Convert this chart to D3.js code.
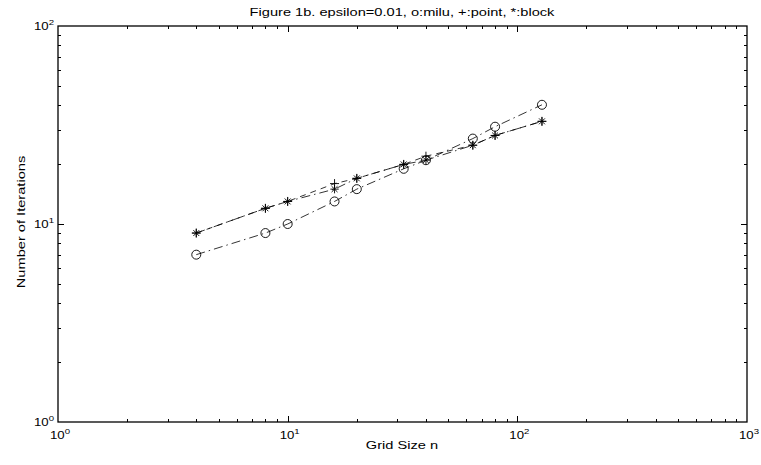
<!DOCTYPE html>
<html><head><meta charset="utf-8">
<script src="https://cdn.jsdelivr.net/npm/d3@7/dist/d3.min.js"></script>
<style>body{margin:0;background:#fff}text{font-family:"Liberation Sans",Arial,sans-serif;fill:#000}</style>
</head><body>
<script>
const gridSizes = [4, 8, 10, 16, 20, 32, 40, 64, 80, 128];
const miluIters = [7, 9, 10, 13, 15, 19, 21, 27, 31, 40];
const pointIters = [9, 12, 13, 16, 17, 20, 22, 25, 28, 33];
const blockIters = [9, 12, 13, 15, 17, 20, 21, 25, 28, 33];
const xDecades = [0, 1, 2, 3];
const yDecades = [0, 1, 2];
const titleText = "Figure 1b. epsilon=0.01, o:milu, +:point, *:block";

const W = 761, H = 465;
const L = 58, R = 747, T = 26, B = 422;
const SX = 1.33;
const svg = d3.select("body").append("svg").attr("width", W).attr("height", H);
const x = d3.scaleLog().domain([1, 1000]).range([L, R]);
const y = d3.scaleLog().domain([1, 100]).range([B, T]);

// ticks
const minorX = [], minorY = [];
for (let d = 0; d < 3; d++) for (let k = 2; k <= 9; k++) minorX.push(k * Math.pow(10, d));
for (let d = 0; d < 2; d++) for (let k = 2; k <= 9; k++) minorY.push(k * Math.pow(10, d));
const tk = svg.append("g").attr("stroke", "#000").attr("stroke-width", 1);
minorX.forEach(v => {
  const px = Math.round(x(v)) + 0.5;
  tk.append("line").attr("x1", px).attr("x2", px).attr("y1", B).attr("y2", B - 3);
  tk.append("line").attr("x1", px).attr("x2", px).attr("y1", T).attr("y2", T + 3);
});
xDecades.slice(1, -1).forEach(e => {
  const px = Math.round(x(Math.pow(10, e))) + 0.5;
  tk.append("line").attr("x1", px).attr("x2", px).attr("y1", B).attr("y2", B - 6);
  tk.append("line").attr("x1", px).attr("x2", px).attr("y1", T).attr("y2", T + 6);
});
minorY.forEach(v => {
  const py = Math.round(y(v)) + 0.5;
  tk.append("line").attr("y1", py).attr("y2", py).attr("x1", L).attr("x2", L + 3);
  tk.append("line").attr("y1", py).attr("y2", py).attr("x1", R).attr("x2", R - 3);
});
yDecades.slice(1, -1).forEach(e => {
  const py = Math.round(y(Math.pow(10, e))) + 0.5;
  tk.append("line").attr("y1", py).attr("y2", py).attr("x1", L).attr("x2", L + 6);
  tk.append("line").attr("y1", py).attr("y2", py).attr("x1", R).attr("x2", R - 6);
});

// box
svg.append("rect").attr("x", L).attr("y", T).attr("width", R - L).attr("height", B - T)
  .attr("fill", "none").attr("stroke", "#000").attr("stroke-width", 1.3);

// tick labels
function pow10(e, ax, ay, anchor) {
  const g = svg.append("g").attr("transform", `translate(${ax},${ay}) scale(1.2,1)`);
  const t = g.append("text").attr("text-anchor", anchor).attr("font-size", 11);
  t.append("tspan").text("10");
  t.append("tspan").attr("dy", -5).attr("font-size", 8).text(e);
}
xDecades.forEach(e => pow10(e, x(Math.pow(10, e)) + 2, B + 17, "middle"));
yDecades.forEach(e => pow10(e, L - 4, y(Math.pow(10, e)) + 4, "end"));

function stretched(txt, cx, cy, rot) {
  svg.append("g").attr("transform", `translate(${cx},${cy}) rotate(${rot}) scale(${SX},1)`)
    .append("text").attr("text-anchor", "middle").attr("font-size", 11).text(txt);
}
stretched("Grid Size n", 402, 449, 0);
stretched("Number of Iterations", 25, 222, -90);
stretched(titleText, 402, 16, 0);

// lines
const line = d3.line().x(d => x(d[0])).y(d => y(d[1]));
function series(vals, dash) {
  svg.append("path").datum(gridSizes.map((g, i) => [g, vals[i]]))
    .attr("d", line).attr("fill", "none").attr("stroke", "#000").attr("stroke-width", 0.8)
    .attr("stroke-dasharray", dash);
}
series(miluIters, "9,4,1.5,4");
series(blockIters, "9,4,1.5,4");
series(pointIters, "6,5");

const mk = svg.append("g").attr("stroke", "#000").attr("fill", "none").attr("stroke-width", 0.9);
gridSizes.forEach((g, i) => {
  mk.append("circle").attr("cx", x(g)).attr("cy", y(miluIters[i])).attr("r", 4.5);
});
gridSizes.forEach((g, i) => {
  const cx = x(g), cy = y(pointIters[i]);
  mk.append("line").attr("x1", cx - 4.5).attr("x2", cx + 4.5).attr("y1", cy).attr("y2", cy);
  mk.append("line").attr("x1", cx).attr("x2", cx).attr("y1", cy - 4.5).attr("y2", cy + 4.5);
});
gridSizes.forEach((g, i) => {
  const cx = x(g), cy = y(blockIters[i]), s = 4.2;
  mk.append("line").attr("x1", cx - s).attr("x2", cx + s).attr("y1", cy).attr("y2", cy);
  mk.append("line").attr("x1", cx).attr("x2", cx).attr("y1", cy - s).attr("y2", cy + s);
  mk.append("line").attr("x1", cx - s * 0.7).attr("x2", cx + s * 0.7).attr("y1", cy - s * 0.7).attr("y2", cy + s * 0.7);
  mk.append("line").attr("x1", cx - s * 0.7).attr("x2", cx + s * 0.7).attr("y1", cy + s * 0.7).attr("y2", cy - s * 0.7);
});
</script>
</body></html>
